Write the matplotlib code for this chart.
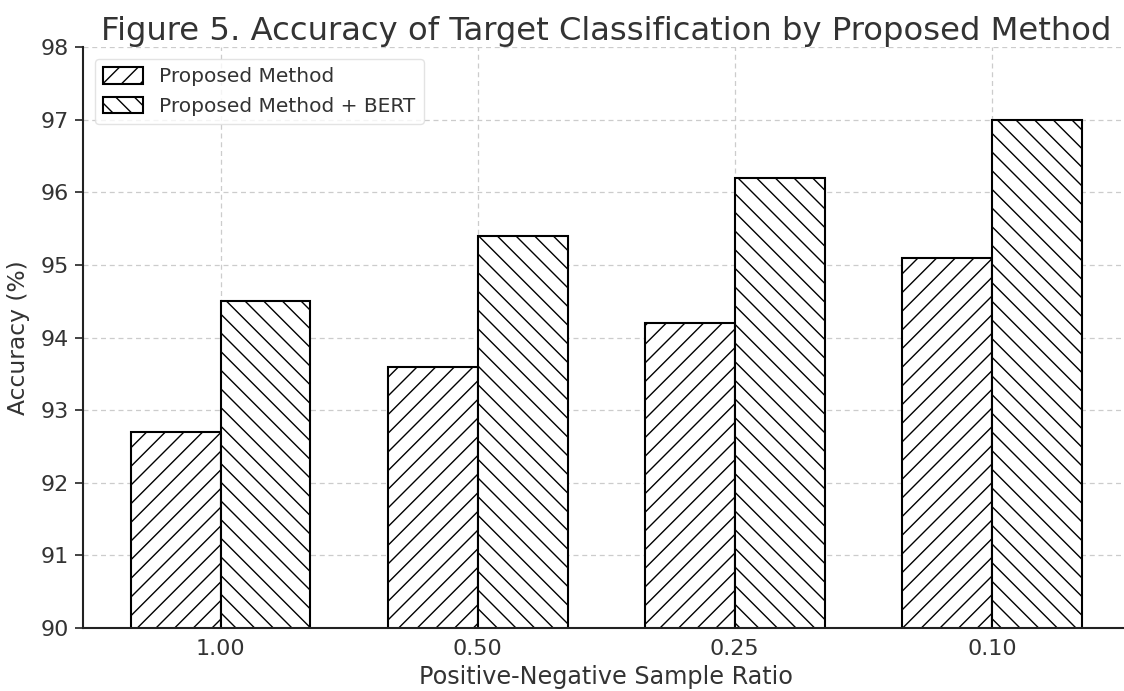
import numpy as np
import matplotlib
matplotlib.use("Agg")
import matplotlib.pyplot as plt

# data
ratios = ["1.00", "0.50", "0.25", "0.10"]
proposed = [92.7, 93.6, 94.2, 95.1]
proposed_bert = [94.5, 95.4, 96.2, 97.0]

# lower dpi with a bigger figure so the hatch spacing matches the reference
DPI = 56
s = 100 / DPI  # point sizes were tuned at dpi 100

plt.rcParams['font.family'] = ['DejaVu Sans']
plt.rcParams['hatch.linewidth'] = 1.0 * s
text_color = '#333333'

fig = plt.figure(figsize=(1124 / DPI, 691 / DPI), dpi=DPI)
ax = fig.add_axes([0.0738, 0.091, 0.931, 0.841])

x = np.arange(len(ratios))
width = 0.35
ax.bar(x - width / 2, proposed, width, label='Proposed Method',
       color='white', edgecolor='black', hatch='/', linewidth=1.5 * s, zorder=2)
ax.bar(x + width / 2, proposed_bert, width, label='Proposed Method + BERT',
       color='white', edgecolor='black', hatch='\\', linewidth=1.5 * s, zorder=2)

ax.set_ylim(90, 98)
ax.set_xticks(x)
ax.set_xticklabels(ratios)
ax.tick_params(axis='both', labelsize=16 * s, colors=text_color)
ax.tick_params(axis='x', length=0, pad=8 * s)
ax.tick_params(axis='y', length=6 * s, width=1.2 * s, color='#222222', pad=4 * s)

ax.set_xlabel('Positive-Negative Sample Ratio', fontsize=17.2 * s, color=text_color, labelpad=4 * s)
ax.set_ylabel('Accuracy (%)', fontsize=16.8 * s, color=text_color, labelpad=8 * s)
ax.set_title('Figure 5. Accuracy of Target Classification by Proposed Method',
             fontsize=23.2 * s, color=text_color, pad=1.5 * s)

ax.grid(True, linestyle=(0, (4, 3)), color='#cccccc', linewidth=0.9 * s, zorder=0)
ax.set_axisbelow(True)
for side in ['top', 'right']:
    ax.spines[side].set_visible(False)
for side in ['left', 'bottom']:
    ax.spines[side].set_color('#222222')
    ax.spines[side].set_linewidth(1.5 * s)

leg = ax.legend(loc='upper left', fontsize=14.5 * s, frameon=True, fancybox=True,
                borderpad=0.4, handlelength=2.0, handleheight=0.9,
                borderaxespad=0.6)
leg.get_frame().set_edgecolor('#dddddd')
leg.get_frame().set_linewidth(1.0 * s)
for t in leg.get_texts():
    t.set_color(text_color)

fig.savefig('out.png', dpi=DPI)
